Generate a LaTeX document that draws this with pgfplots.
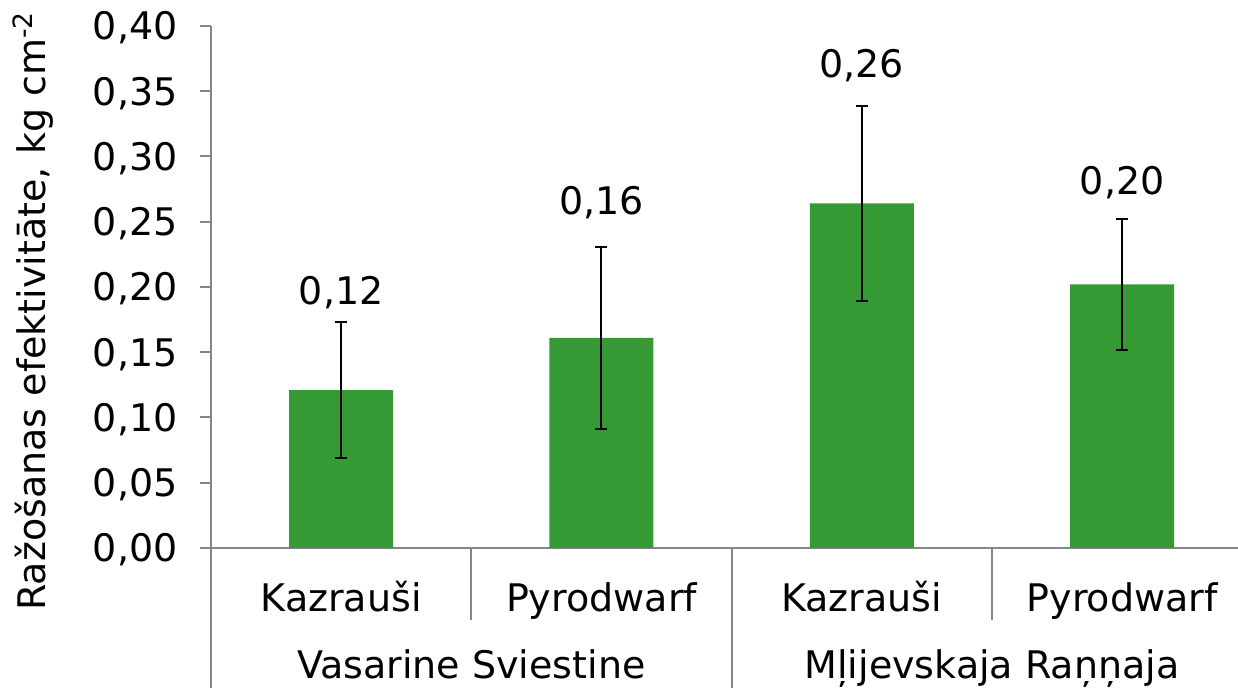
\documentclass[border=0pt]{standalone}
\usepackage{pgfplots}
\pgfplotsset{compat=1.18}
\usepackage{fontspec}
\setmainfont{DejaVu Sans}
\definecolor{barg}{RGB}{53,153,52}
\definecolor{axg}{RGB}{134,134,134}
\begin{document}
\begin{tikzpicture}
\fontsize{19}{23}\selectfont
% category decoration axis (separator lines)
\begin{axis}[
  at={(105.5pt,70pt)}, anchor=south west,
  scale only axis, width=513.5pt, height=261pt,
  xmin=-0.5, xmax=3.445, ymin=0, ymax=0.40,
  axis x line*=bottom, axis y line=none,
  axis line style={axg, line width=1pt},
  every tick/.style={axg, line width=1pt},
  tick align=outside,
  xtick={-0.5,1.5,3.5}, xticklabels={},
  major tick length=70pt,
  minor xtick={0.5,2.5},
  minor tick length=36pt,
]
\end{axis}
\begin{axis}[
  at={(105.5pt,70pt)}, anchor=south west,
  scale only axis, width=513.5pt, height=261pt,
  xmin=-0.5, xmax=3.445, ymin=0, ymax=0.40,
  clip=false,
  axis x line*=bottom, axis y line*=left,
  axis line style={axg, line width=1pt},
  every tick/.style={axg, line width=1pt},
  tick align=outside,
  major tick length=5.5pt,
  ytick={0,0.05,0.10,0.15,0.20,0.25,0.30,0.35,0.40},
  yticklabel style={font=\fontsize{19}{23}\selectfont, anchor=base east, inner sep=0pt, xshift=-11pt, yshift=-6.9pt,
    /pgf/number format/.cd, fixed, fixed zerofill, precision=2, use comma, assume math mode=true},
  xtick={0,1,2,3},
  xticklabels={Kazrauši,Pyrodwarf,Kazrauši,Pyrodwarf},
  xtick style={draw=none},
  xticklabel style={font=\fontsize{19}{23}\selectfont, anchor=base, inner sep=0pt, yshift=-26.5pt},
  extra x ticks={0.5,2.5},
  extra x tick labels={Vasarine Sviestine,Mļijevskaja Raņņaja},
  extra x tick style={xticklabel style={yshift=-33.5pt}},
  ylabel={Ražošanas efektivitāte, kg cm\textsuperscript{-2}},
  ylabel style={font=\fontsize{19}{23}\selectfont, at={(axis description cs:-0.173,0.454)}, anchor=center},
]
\addplot[ybar, bar width=52pt, fill=barg, draw=none,
  error bars/.cd, y dir=both, y explicit,
  error bar style={black, line width=1pt},
  error mark options={rotate=90, mark size=3pt, black, line width=1pt}]
  table[x=x, y=y, y error=e] {
x y e
0 0.121 0.052
1 0.161 0.070
2 0.264 0.075
3 0.202 0.050
};
\addplot[draw=none, mark=none, nodes near coords, point meta=explicit symbolic,
  every node near coord/.append style={anchor=base, inner sep=0pt, font=\fontsize{19}{23}\selectfont, text=black}]
  coordinates {(0,0.1862) [{0,12}] (1,0.2552) [{0,16}] (2,0.3609) [{0,26}] (3,0.2705) [{0,20}]};
\end{axis}
\pgfresetboundingbox
\useasboundingbox (0,0) rectangle (619pt,344pt);
\end{tikzpicture}
\end{document}
